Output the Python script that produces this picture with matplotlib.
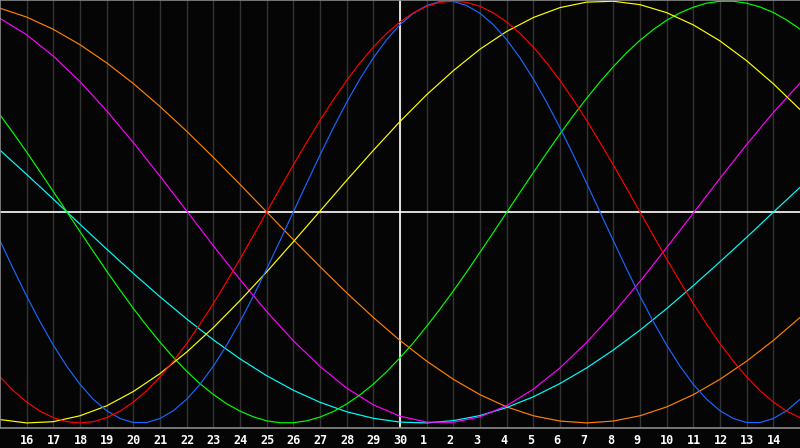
import matplotlib
matplotlib.use('Agg')
import matplotlib.pyplot as plt
import matplotlib.transforms as mtransforms

# day labels shown under the grid (index 0 = day 16)
dias = [16, 17, 18, 19, 20, 21, 22, 23, 24, 25, 26, 27, 28, 29, 30,
        1, 2, 3, 4, 5, 6, 7, 8, 9, 10, 11, 12, 13, 14]
hoje = 14  # index of day 30

# sample positions: one per day for the slow curves, two per day for the fast ones
t = list(range(-1, 30))
t_meio = [i / 2 for i in range(-2, 59)]

# fast curves, read every half day
vermelho = [-0.782, -0.847, -0.901, -0.944, -0.975, -0.994, -1.000, -0.994, -0.975, -0.944,
            -0.901, -0.847, -0.782, -0.707, -0.624, -0.532, -0.434, -0.330, -0.223, -0.112,
            0.000, 0.112, 0.223, 0.330, 0.434, 0.532, 0.624, 0.707, 0.782, 0.847,
            0.901, 0.944, 0.975, 0.994, 1.000, 0.994, 0.975, 0.944, 0.901, 0.847,
            0.782, 0.707, 0.624, 0.532, 0.434, 0.330, 0.223, 0.112, 0.000, -0.112,
            -0.223, -0.330, -0.434, -0.532, -0.624, -0.707, -0.782, -0.847, -0.901, -0.944, -0.975]
azul = [-0.136, -0.270, -0.399, -0.520, -0.631, -0.731, -0.817, -0.888, -0.942, -0.979,
        -0.998, -0.998, -0.979, -0.942, -0.888, -0.817, -0.731, -0.631, -0.520, -0.399,
        -0.270, -0.136, 0.000, 0.136, 0.270, 0.399, 0.520, 0.631, 0.731, 0.817,
        0.888, 0.942, 0.979, 0.998, 0.998, 0.979, 0.942, 0.888, 0.817, 0.731,
        0.631, 0.520, 0.399, 0.270, 0.136, 0.000, -0.136, -0.270, -0.399, -0.520,
        -0.631, -0.731, -0.817, -0.888, -0.942, -0.979, -0.998, -0.998, -0.979, -0.942, -0.888]
verde = [0.460, 0.374, 0.284, 0.191, 0.097, 0.002, -0.093, -0.187, -0.280, -0.370,
         -0.457, -0.539, -0.617, -0.689, -0.755, -0.814, -0.865, -0.909, -0.944, -0.971,
         -0.990, -0.999, -0.999, -0.990, -0.972, -0.946, -0.910, -0.867, -0.816, -0.757,
         -0.691, -0.620, -0.542, -0.460, -0.374, -0.284, -0.191, -0.097, -0.002, 0.093,
         0.187, 0.280, 0.370, 0.457, 0.539, 0.617, 0.689, 0.755, 0.814, 0.865,
         0.909, 0.944, 0.971, 0.990, 0.999, 0.999, 0.990, 0.972, 0.946, 0.910, 0.867]

# slow curves, read once a day
amarelo = [-0.984, -1.000, -0.994, -0.966, -0.919, -0.851, -0.766, -0.664, -0.548, -0.420,
           -0.284, -0.141, 0.004, 0.150, 0.292, 0.429, 0.556, 0.670, 0.772, 0.856,
           0.922, 0.969, 0.995, 0.999, 0.983, 0.945, 0.887, 0.811, 0.717, 0.608, 0.486]
magenta = [0.918, 0.840, 0.739, 0.618, 0.480, 0.329, 0.170, 0.005, -0.160, -0.320,
           -0.472, -0.610, -0.732, -0.835, -0.914, -0.968, -0.996, -0.997, -0.971, -0.918,
           -0.840, -0.739, -0.618, -0.480, -0.329, -0.169, -0.005, 0.160, 0.320, 0.472, 0.611]
ciano = [0.293, 0.178, 0.061, -0.058, -0.176, -0.291, -0.402, -0.507, -0.606, -0.696,
         -0.776, -0.845, -0.902, -0.947, -0.978, -0.996, -1.000, -0.989, -0.965, -0.927,
         -0.876, -0.813, -0.739, -0.654, -0.560, -0.458, -0.349, -0.236, -0.120, -0.001, 0.117]
laranja = [0.966, 0.924, 0.866, 0.793, 0.707, 0.609, 0.500, 0.383, 0.259, 0.131,
           0.000, -0.131, -0.259, -0.383, -0.500, -0.609, -0.707, -0.793, -0.866, -0.924,
           -0.966, -0.991, -1.000, -0.991, -0.966, -0.924, -0.866, -0.793, -0.707, -0.609, -0.500]

series = [
    (t, laranja, '#ff8000'),
    (t, ciano, '#00ffff'),
    (t, magenta, '#ff00ff'),
    (t_meio, verde, '#00ff00'),
    (t, amarelo, '#ffff00'),
    (t_meio, azul, '#1a66ff'),
    (t_meio, vermelho, '#ff0000'),
]

fig = plt.figure(figsize=(8, 4.48), dpi=100, facecolor='#050505')
ax = fig.add_axes([0, 20 / 448, 1, 428 / 448])
ax.set_facecolor('#050505')

for i in range(len(dias)):
    ax.axvline(i, color='#333333', lw=1)

ax.axhline(0, color='white', lw=1.2)
ax.axvline(hoje, color='white', lw=1.2)

for xs, valores, cor in series:
    ax.plot(xs, valores, color=cor, lw=0.85)

ax.set_xlim(-1, 29)
ax.set_ylim(-1.024, 1.005)
ax.set_xticks([])
ax.set_yticks([])
for lado in ['top', 'left', 'bottom']:
    ax.spines[lado].set_color('#8a8a8a')
    ax.spines[lado].set_linewidth(1.2)
ax.spines['right'].set_visible(False)

desloc = mtransforms.offset_copy(ax.get_xaxis_transform(), fig=fig, x=-6.5, y=-12, units='dots')
for i, d in enumerate(dias):
    ax.text(i, 0, str(d), transform=desloc, ha='left', va='center',
            color='white', fontsize=8.5, fontweight='bold', family='DejaVu Sans Mono',
            clip_on=False)

plt.savefig('out.png', dpi=100, facecolor=fig.get_facecolor())
